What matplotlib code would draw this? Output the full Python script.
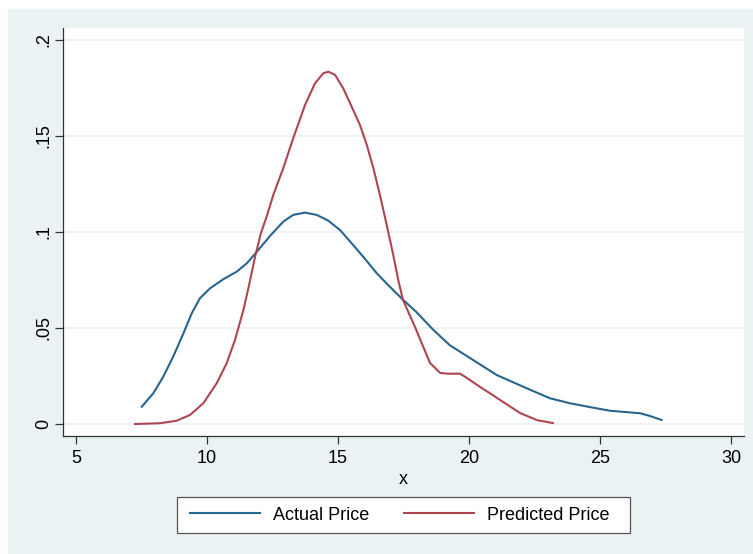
import matplotlib
matplotlib.use("Agg")
import matplotlib.pyplot as plt
from matplotlib.patches import Rectangle

# density estimates
actual_x = [7.51, 7.95, 8.33, 8.71, 9.10, 9.42, 9.73, 10.12, 10.62, 11.13,
            11.52, 11.90, 12.41, 12.91, 13.29, 13.74, 14.19, 14.63, 15.08,
            15.58, 16.0, 16.48, 17.0, 17.49, 18.0, 18.64, 19.27, 20.16,
            21.06, 22.07, 23.09, 23.85, 24.62, 25.38, 26.0, 26.53, 26.9, 27.35]
actual_y = [0.0090, 0.0160, 0.0246, 0.0351, 0.0472, 0.0577, 0.0655, 0.0707,
            0.0754, 0.0793, 0.0837, 0.0897, 0.0980, 0.1054, 0.1089, 0.1101,
            0.1089, 0.1059, 0.1010, 0.0932, 0.0865, 0.0785, 0.0712, 0.0646,
            0.0582, 0.0490, 0.0410, 0.0333, 0.0255, 0.0194, 0.0134, 0.0108,
            0.0088, 0.0069, 0.0062, 0.0056, 0.0042, 0.0021]

pred_x = [7.25, 8.2, 8.84, 9.35, 9.86, 10.37, 10.75, 11.07, 11.39, 11.6,
          11.85, 12.05, 12.3, 12.53, 12.91, 13.29, 13.74, 14.12, 14.44, 14.63,
          14.89, 15.2, 15.52, 15.84, 16.1, 16.35, 16.6, 16.86, 17.11, 17.3,
          17.48, 17.94, 18.51, 18.9, 19.2, 19.66, 19.92, 20.4, 20.8, 21.3,
          21.95, 22.6, 23.2]
pred_y = [0.0, 0.0004, 0.0017, 0.0047, 0.0108, 0.0212, 0.0316, 0.0438,
          0.0594, 0.072, 0.088, 0.099, 0.109, 0.1193, 0.1332, 0.1488, 0.1661,
          0.1774, 0.1827, 0.1835, 0.1818, 0.1748, 0.1653, 0.1557, 0.1453,
          0.1332, 0.1193, 0.1036, 0.0880, 0.0750, 0.0646, 0.0505, 0.0318,
          0.0266, 0.0262, 0.0262, 0.0240, 0.0195, 0.0160, 0.0115, 0.0057,
          0.0020, 0.0005]

xticks = [5, 10, 15, 20, 25, 30]
yticks = [0, 0.05, 0.1, 0.15, 0.2]
ylabels = ["0", ".05", ".1", ".15", ".2"]

plt.rcParams['font.family'] = ['Liberation Sans', 'DejaVu Sans']

bg = '#eaf2f3'
blue = '#27658f'
red = '#ad4650'

fig = plt.figure(figsize=(7.53, 5.54), dpi=100, facecolor='white')
fig.patches.append(Rectangle((8 / 753, 0), 1, 1 - 9 / 554,
                             transform=fig.transFigure, color=bg, zorder=-10))

ax = fig.add_axes([63 / 753, 118 / 554, 681 / 753, 408 / 554])
ax.set_facecolor('white')

l1, = ax.plot(actual_x, actual_y, color=blue, lw=1.5, label='Actual Price')
l2, = ax.plot(pred_x, pred_y, color=red, lw=1.5, label='Predicted Price')

ax.set_xlim(4.504, 30.496)
ax.set_ylim(-0.00625, 0.20625)
ax.set_xticks(xticks)
ax.set_yticks(yticks)
ax.set_yticklabels(ylabels, rotation=90, va='center')
ax.tick_params(labelsize=13, length=6, width=0.9, color='#333333', pad=4)
ax.tick_params(axis='y', pad=2)
for y in yticks:
    ax.axhline(y, color=bg, lw=1.2, zorder=0)

for s in ['top', 'right']:
    ax.spines[s].set_visible(False)
for s in ['left', 'bottom']:
    ax.spines[s].set_color('#333333')
    ax.spines[s].set_linewidth(0.9)

ax.set_xlabel('x', fontsize=13, labelpad=3)

# legend box drawn separately so its size matches
fig.patches.append(Rectangle((177 / 753, 21 / 554), 453 / 753, 36 / 554,
                             transform=fig.transFigure, facecolor='white',
                             edgecolor='#555555', lw=0.9, zorder=1))
leg = fig.legend(handles=[l1, l2], loc='center', ncol=2,
                 bbox_to_anchor=(399.5 / 753, 1 - 515 / 554),
                 fontsize=13, handlelength=3.88, handletextpad=0.72,
                 columnspacing=1.94, frameon=False)
leg.set_zorder(5)

fig.savefig('out.png', dpi=100, facecolor=fig.get_facecolor())
